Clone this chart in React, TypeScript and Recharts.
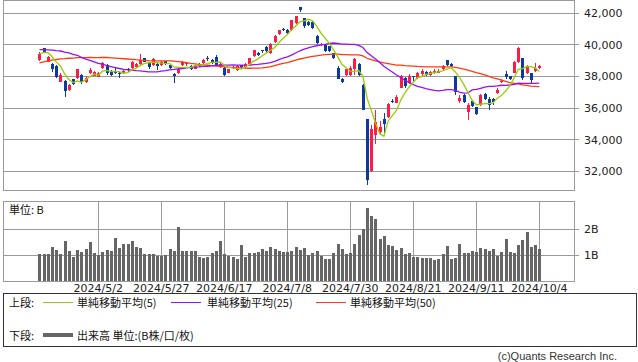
import React from "react";
import { ComposedChart, Bar, Line, XAxis, YAxis, CartesianGrid } from "recharts";

// ─── Data (trading days 2024/4/11 – 2024/10/4) ───────────────────────────────
const DATES = [
  "4/11", "4/12", "4/15", "4/16", "4/17", "4/18", "4/19", "4/22", "4/23", "4/24",
  "4/25", "4/26", "4/30", "5/1", "5/2", "5/7", "5/8", "5/9", "5/10", "5/13",
  "5/14", "5/15", "5/16", "5/17", "5/20", "5/21", "5/22", "5/23", "5/24", "5/27",
  "5/28", "5/29", "5/30", "5/31", "6/3", "6/4", "6/5", "6/6", "6/7", "6/10",
  "6/11", "6/12", "6/13", "6/14", "6/17", "6/18", "6/19", "6/20", "6/21", "6/24",
  "6/25", "6/26", "6/27", "6/28", "7/1", "7/2", "7/3", "7/4", "7/5", "7/8",
  "7/9", "7/10", "7/11", "7/12", "7/16", "7/17", "7/18", "7/19", "7/22", "7/23",
  "7/24", "7/25", "7/26", "7/29", "7/30", "7/31", "8/1", "8/2", "8/5", "8/6",
  "8/7", "8/8", "8/9", "8/13", "8/14", "8/15", "8/16", "8/19", "8/20", "8/21",
  "8/22", "8/23", "8/26", "8/27", "8/28", "8/29", "8/30", "9/2", "9/3", "9/4",
  "9/5", "9/6", "9/9", "9/10", "9/11", "9/12", "9/13", "9/17", "9/18", "9/19",
  "9/20", "9/24", "9/25", "9/26", "9/27", "9/30", "10/1", "10/2", "10/3", "10/4",
];

const OPEN = [
  39060, 39780, 38940, 38790, 38670, 37680, 37740, 37150, 37820, 37890,
  38120, 37670, 38200, 38030, 37990, 38540, 38730, 38370, 38350, 38250,
  38200, 38500, 38560, 38600, 38800, 39150, 38850, 38700, 38800, 38700,
  38950, 38700, 38150, 38200, 38700, 38800, 38650, 38500, 38800, 38850,
  39180, 39050, 39250, 38600, 38550, 38250, 38600, 38400, 38700, 38600,
  38800, 39300, 39470, 39650, 39860, 39470, 40200, 40690, 41000, 40950,
  40940, 41400, 42420, 41680, 41470, 41470, 40550, 40000, 40000, 39900,
  39470, 38560, 37820, 38090, 38100, 38450, 38790, 37460, 35290, 32040,
  34300, 34500, 35290, 35450, 36480, 36340, 37300, 37900, 37600, 38000,
  37900, 38150, 38300, 38100, 38200, 38250, 38450, 39040, 38800, 38030,
  36470, 36830, 35770, 36440, 36040, 36200, 36890, 36570, 36600, 36950,
  37650, 38150, 38000, 38240, 38940, 39150, 38240, 38200, 38350, 38550,
];

const HIGH = [
  39560, 39830, 39300, 38830, 38700, 38250, 37780, 37500, 37850, 38500,
  38150, 38000, 38520, 38320, 38300, 38900, 38760, 38400, 38600, 38350,
  38420, 38550, 38950, 38850, 39440, 39200, 38900, 39150, 38850, 38950,
  39000, 38750, 38200, 38550, 38950, 38900, 38700, 38750, 38850, 39100,
  39300, 39100, 39340, 38900, 38580, 38500, 38650, 38700, 38750, 38850,
  39200, 39700, 39520, 39700, 39900, 40100, 40600, 40950, 41100, 41000,
  41600, 41850, 42430, 41700, 41500, 41500, 40600, 40150, 40050, 39950,
  39500, 38650, 37900, 38500, 38650, 39200, 38850, 37500, 35300, 34900,
  35850, 35200, 35700, 36300, 36550, 36800, 38100, 37950, 38150, 38050,
  38300, 38450, 38350, 38350, 38450, 38450, 38700, 39050, 38850, 38050,
  36850, 36900, 36300, 36500, 36100, 36900, 36950, 36700, 36650, 37300,
  37850, 38350, 38050, 38950, 39880, 39200, 38700, 38250, 38880, 38700,
];

const LOW = [
  38990, 39460, 38900, 38300, 37900, 37650, 36733, 37100, 37480, 37850,
  37550, 37620, 38150, 38000, 37950, 38500, 38100, 38050, 38150, 37900,
  38150, 38300, 38450, 38550, 38750, 38900, 38500, 38650, 38400, 38650,
  38750, 38500, 37620, 38150, 38650, 38650, 38400, 38450, 38600, 38800,
  39000, 38800, 38700, 38550, 38050, 38200, 38450, 38350, 38500, 38550,
  38750, 39250, 39300, 39480, 39500, 39450, 40150, 40650, 40850, 40700,
  40900, 41350, 42100, 41100, 41200, 41000, 40050, 39950, 39550, 39550,
  39100, 37850, 37600, 38050, 38050, 38100, 38000, 35880, 31156, 31950,
  33700, 34300, 34450, 35400, 36350, 36300, 37250, 37300, 37550, 37700,
  37850, 38050, 38000, 38050, 38150, 38200, 38400, 38650, 38600, 36830,
  36300, 36300, 35250, 36050, 35550, 36150, 36500, 35850, 36200, 36900,
  37600, 37850, 37800, 38200, 38850, 37800, 38150, 37600, 38300, 38500,
];

const CLOSE = [
  39442, 39523, 39232, 38471, 37961, 38079, 37068, 37438, 37552, 38460,
  37628, 37934, 38405, 38274, 38236, 38835, 38202, 38073, 38229, 38179,
  38356, 38385, 38920, 38787, 39069, 38946, 38617, 39103, 38646, 38900,
  38855, 38556, 38054, 38487, 38923, 38837, 38490, 38703, 38683, 39038,
  39134, 38876, 38720, 38814, 38102, 38482, 38570, 38633, 38596, 38804,
  39173, 39667, 39341, 39583, 39631, 40074, 40580, 40913, 40912, 40780,
  41580, 41831, 42224, 41190, 41275, 41097, 40126, 40063, 39599, 39594,
  39154, 37869, 37667, 38468, 38525, 39101, 38126, 35909, 31458, 34675,
  35089, 34831, 35025, 36232, 36442, 36726, 38062, 37388, 38062, 37951,
  38211, 38364, 38110, 38288, 38371, 38362, 38647, 38700, 38686, 37047,
  36657, 36391, 36215, 36159, 35619, 36833, 36581, 36203, 36380, 37155,
  37723, 37940, 37870, 38925, 39829, 37919, 38651, 37808, 38552, 38635,
];

// 単純移動平均 (5 / 25 / 50)
const MA5 = [
  39426, 39532, 39508, 39248, 38924, 38652, 38162, 37804, 37620, 37720,
  37630, 37802, 37996, 38140, 38096, 38338, 38392, 38324, 38316, 38304,
  38208, 38246, 38416, 38528, 38706, 38824, 38870, 38906, 38878, 38844,
  38826, 38814, 38604, 38572, 38576, 38572, 38558, 38688, 38726, 38750,
  38808, 38886, 38890, 38916, 38728, 38598, 38536, 38518, 38476, 38616,
  38754, 38974, 39116, 39312, 39478, 39658, 39840, 40154, 40420, 40650,
  40952, 41202, 41464, 41520, 41620, 41524, 41184, 40752, 40434, 40096,
  39706, 39254, 38776, 38550, 38338, 38328, 38380, 38028, 36626, 35856,
  35054, 34394, 34218, 35172, 35524, 35852, 36498, 36970, 37336, 37638,
  37934, 37994, 38138, 38184, 38268, 38298, 38356, 38474, 38554, 38290,
  37950, 37498, 37002, 36496, 36210, 36244, 36282, 36278, 36322, 36630,
  36808, 37080, 37414, 37924, 38458, 38498, 38640, 38628, 38552, 38314,
];

const MA25 = [
  39707, 39704, 39686, 39672, 39638, 39613, 39544, 39493, 39405, 39344,
  39216, 39098, 39018, 38932, 38832, 38778, 38692, 38622, 38558, 38507,
  38451, 38427, 38410, 38370, 38350, 38330, 38294, 38289, 38296, 38334,
  38365, 38425, 38449, 38487, 38505, 38554, 38576, 38588, 38604, 38636,
  38648, 38675, 38701, 38724, 38721, 38726, 38733, 38721, 38714, 38703,
  38712, 38754, 38763, 38800, 38830, 38878, 38959, 39073, 39170, 39244,
  39354, 39488, 39628, 39729, 39818, 39897, 39947, 40001, 40032, 40092,
  40119, 40091, 40052, 40047, 40036, 40034, 39972, 39835, 39510, 39312,
  39113, 38883, 38648, 38460, 38287, 38093, 37942, 37749, 37624, 37490,
  37375, 37304, 37226, 37174, 37125, 37093, 37124, 37166, 37174, 37115,
  37018, 36948, 36960, 37148, 37186, 37256, 37326, 37372, 37378, 37407,
  37447, 37442, 37461, 37496, 37571, 37560, 37571, 37559, 37570, 37580,
];

const MA50 = [
  38863, 38932, 38991, 39040, 39076, 39111, 39129, 39155, 39169, 39200,
  39194, 39198, 39203, 39199, 39194, 39204, 39203, 39182, 39162, 39141,
  39124, 39108, 39089, 39062, 39042, 39019, 38999, 38987, 38984, 38986,
  38989, 38984, 38971, 38946, 38924, 38885, 38837, 38803, 38768, 38734,
  38713, 38683, 38662, 38641, 38614, 38588, 38580, 38565, 38542, 38526,
  38521, 38524, 38526, 38548, 38582, 38622, 38692, 38761, 38828, 38875,
  38954, 39032, 39108, 39166, 39227, 39272, 39311, 39351, 39378, 39406,
  39422, 39412, 39387, 39380, 39370, 39373, 39363, 39299, 39155, 39071,
  38995, 38921, 38860, 38815, 38766, 38723, 38715, 38689, 38676, 38654,
  38636, 38626, 38613, 38603, 38608, 38606, 38608, 38609, 38611, 38576,
  38526, 38460, 38398, 38329, 38249, 38184, 38104, 38010, 37919, 37847,
  37770, 37692, 37605, 37560, 37531, 37467, 37438, 37393, 37372, 37353,
];

// 出来高 (B株)
const VOLUME = [
  1.04, 1.04, 1.04, 1.31, 1.19, 1.04, 1.54, 1.15, 0.94, 1.19,
  1.12, 1.23, 1.5, 1.08, 1.0, 1.12, 1.19, 1.15, 1.65, 1.27,
  1.42, 1.42, 1.54, 1.31, 1.27, 1.04, 1.04, 1.04, 0.96, 0.96,
  1.0, 1.23, 1.15, 2.08, 1.15, 1.15, 1.15, 1.15, 0.92, 0.88,
  0.92, 1.08, 1.15, 1.54, 1.04, 0.96, 0.92, 0.85, 1.38, 0.92,
  1.08, 1.08, 1.12, 1.23, 1.15, 1.31, 1.23, 1.15, 1.12, 1.12,
  1.15, 1.31, 1.19, 1.27, 1.0, 1.08, 1.15, 0.96, 0.83, 0.86,
  1.08, 1.42, 1.23, 1.04, 1.08, 1.42, 1.77, 2.0, 2.81, 2.5,
  2.38, 1.62, 1.73, 1.38, 1.35, 1.19, 1.27, 1.04, 1.08, 0.92,
  0.92, 0.88, 0.88, 0.88, 0.81, 0.85, 1.04, 1.35, 0.85, 0.88,
  1.42, 1.08, 1.08, 1.15, 1.12, 1.27, 1.23, 1.15, 1.23, 0.96,
  1.12, 1.62, 1.12, 1.08, 1.38, 1.58, 1.88, 1.31, 1.38, 1.23,
];

const X_TICKS = [14, 29, 44, 59, 74, 89, 104, 119];
const PRICE_TICKS = [32000, 34000, 36000, 38000, 40000, 42000];
const VOLUME_TICKS = [1, 2];

// ─── Styles ──────────────────────────────────────────────────────────────────
const RED = "#ff1a48";
const BLUE = "#0c3a9e";
const GRID = "#9a9a9a";
const MA5_COLOR = "#99cc00";
const MA25_COLOR = "#9a10f5";
const MA50_COLOR = "#ff3b0a";
const FONT = "'DejaVu Sans', sans-serif";
const JP_FONT = "'Noto Sans CJK JP', sans-serif";
const X_DOMAIN: [number, number] = [-8.69, 127.26];

const rows = DATES.map((date, i) => ({
  i,
  date,
  open: OPEN[i],
  high: HIGH[i],
  low: LOW[i],
  close: CLOSE[i],
  range: [LOW[i], HIGH[i]],
  volume: VOLUME[i],
  ma5: MA5[i],
  ma25: MA25[i],
  ma50: MA50[i],
}));

// ─── Candle ──────────────────────────────────────────────────────────────────
const Candle = (props: any) => {
  const { x, y, width, height, payload } = props;
  if (!payload) return null;
  const { open, high, low, close } = payload;
  const top = Math.min(y, y + height);
  const span = Math.abs(height);
  const toY = (v: number) =>
    high === low ? top : top + ((high - v) / (high - low)) * span;
  const color = close > open ? RED : BLUE;
  const left = Math.round(x + width / 2 - 1.5);
  const cx = left + 1.5;
  const bodyTop = Math.round(toY(Math.max(open, close)));
  const bodyBottom = Math.round(toY(Math.min(open, close)));
  return (
    <g>
      <line
        x1={cx}
        x2={cx}
        y1={Math.round(top)}
        y2={Math.round(top + span)}
        stroke={color}
        strokeWidth={1}
      />
      <rect
        x={left}
        y={bodyTop}
        width={3}
        height={Math.max(bodyBottom - bodyTop, 1)}
        fill={color}
      />
    </g>
  );
};

const VolumeBar = (props: any) => {
  const { x, y, width, height } = props;
  const left = Math.round(x + width / 2 - 1.5);
  const top = Math.round(y);
  return (
    <rect
      x={left}
      y={top}
      width={3}
      height={Math.round(y + height) - top}
      fill="#666666"
    />
  );
};

const frame = (left: number, top: number, width: number, height: number) => (
  <div
    style={{
      position: "absolute",
      left,
      top,
      width,
      height,
      border: `1px solid ${GRID}`,
      boxSizing: "border-box",
      pointerEvents: "none",
    }}
  />
);

const legendText: React.CSSProperties = {
  position: "absolute",
  fontFamily: JP_FONT,
  fontSize: 11,
  lineHeight: "14px",
  color: "#111",
  whiteSpace: "nowrap",
};

const legendLine = (left: number, top: number, color: string, h = 1) => (
  <div
    style={{ position: "absolute", left, top, width: 30, height: h, background: color }}
  />
);

// ─── App ─────────────────────────────────────────────────────────────────────
export default function App() {
  return (
    <div
      style={{
        position: "absolute",
        left: 0,
        top: 0,
        width: 638,
        height: 362,
        background: "#fff",
        overflow: "hidden",
      }}
    >
      <style>{`.recharts-cartesian-grid line, .recharts-cartesian-axis-tick-line { shape-rendering: crispEdges; }`}</style>

      {/* 上段: price */}
      <div style={{ position: "absolute", left: 0, top: 0 }}>
        <ComposedChart
          width={638}
          height={190}
          data={rows}
          margin={{ top: 0, right: 0, bottom: 0, left: 3 }}
        >
          <CartesianGrid stroke={GRID} />
          <XAxis
            dataKey="i"
            type="number"
            domain={X_DOMAIN}
            ticks={X_TICKS}
            allowDataOverflow
            tick={false}
            tickLine={false}
            axisLine={false}
            height={0}
          />
          <YAxis
            orientation="right"
            width={64}
            domain={[30816, 42842]}
            ticks={PRICE_TICKS}
            allowDataOverflow
            axisLine={false}
            tickLine={{ stroke: GRID }}
            tickSize={5}
            tickMargin={5}
            tick={{ fontSize: 11, fill: "#222", fontFamily: FONT }}
            tickFormatter={(v: number) => v.toLocaleString("en-US")}
          />
          <Bar dataKey="range" barSize={3} shape={<Candle />} isAnimationActive={false} />
          <Line dataKey="ma50" type="linear" stroke={MA50_COLOR} strokeWidth={1.3} dot={false} isAnimationActive={false} />
          <Line dataKey="ma25" type="linear" stroke={MA25_COLOR} strokeWidth={1.3} dot={false} isAnimationActive={false} />
          <Line dataKey="ma5" type="linear" stroke={MA5_COLOR} strokeWidth={1.3} dot={false} isAnimationActive={false} />
        </ComposedChart>
      </div>
      {frame(3, 0, 572, 191)}

      {/* 下段: volume */}
      <div style={{ position: "absolute", left: 0, top: 200 }}>
        <ComposedChart
          width={638}
          height={100}
          data={rows}
          margin={{ top: 1, right: 0, bottom: 0, left: 3 }}
        >
          <CartesianGrid stroke={GRID} />
          <XAxis
            dataKey="i"
            type="number"
            domain={X_DOMAIN}
            ticks={X_TICKS}
            allowDataOverflow
            interval={0}
            axisLine={false}
            tickLine={false}
            tickSize={0}
            tickMargin={3}
            height={19}
            tick={{ fontSize: 11, fill: "#222", fontFamily: FONT }}
            tickFormatter={(v: number) => `2024/${DATES[v]}`}
          />
          <YAxis
            orientation="right"
            width={64}
            domain={[0, 3.08]}
            ticks={VOLUME_TICKS}
            allowDataOverflow
            axisLine={false}
            tickLine={{ stroke: GRID }}
            tickSize={5}
            tickMargin={5}
            tick={{ fontSize: 11, fill: "#222", fontFamily: FONT }}
            tickFormatter={(v: number) => `${v}B`}
          />
          <Bar dataKey="volume" barSize={3} shape={<VolumeBar />} isAnimationActive={false} />
        </ComposedChart>
      </div>
      {frame(3, 201, 572, 81)}
      <div style={{ ...legendText, left: 9, top: 202 }}>単位: B</div>

      {/* Legend */}
      <div
        style={{
          position: "absolute",
          left: 3,
          top: 293,
          width: 634,
          height: 54,
          border: "1px solid #333",
          boxSizing: "border-box",
        }}
      />
      <div style={{ ...legendText, left: 9, top: 295 }}>上段:</div>
      {legendLine(43, 302, MA5_COLOR)}
      <div style={{ ...legendText, left: 77, top: 295 }}>単純移動平均(5)</div>
      {legendLine(171, 302, MA25_COLOR)}
      <div style={{ ...legendText, left: 207, top: 295 }}>単純移動平均(25)</div>
      {legendLine(316, 302, MA50_COLOR)}
      <div style={{ ...legendText, left: 350, top: 295 }}>単純移動平均(50)</div>

      <div style={{ ...legendText, left: 9, top: 328 }}>下段:</div>
      {legendLine(43, 333, "#666666", 4)}
      <div style={{ ...legendText, left: 77, top: 328 }}>出来高 単位:(B株/口/枚)</div>

      <div
        style={{
          position: "absolute",
          right: 21,
          top: 349,
          fontFamily: "'Liberation Sans', sans-serif",
          fontSize: 11,
          lineHeight: "14px",
          color: "#333",
        }}
      >
        (c)Quants Research Inc.
      </div>
    </div>
  );
}
